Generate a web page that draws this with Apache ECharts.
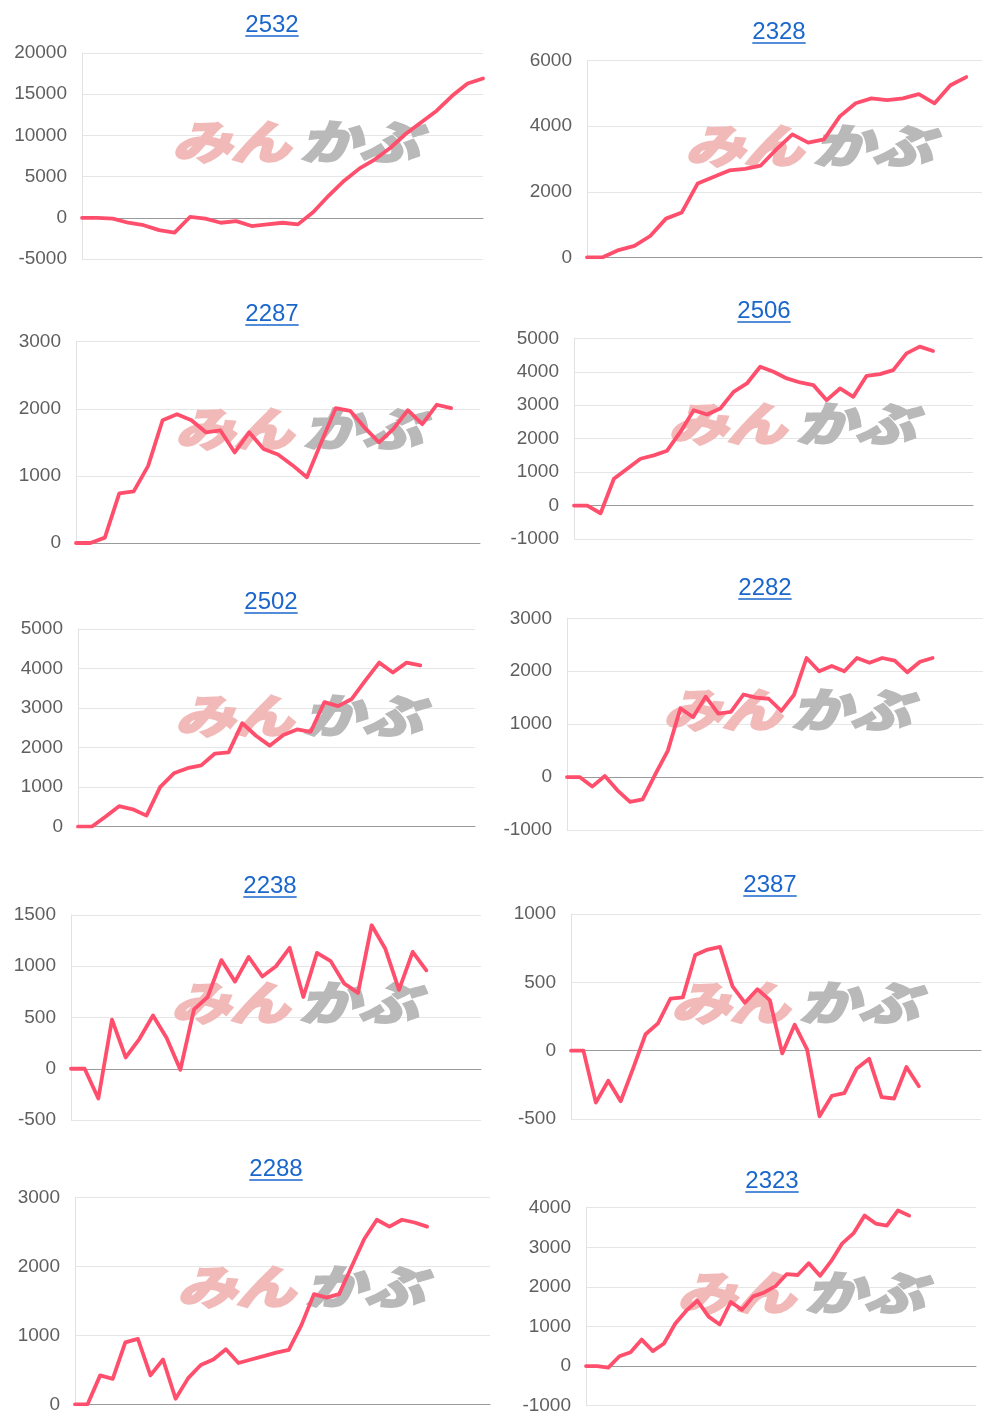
<!DOCTYPE html>
<html><head><meta charset="utf-8">
<script src="https://cdn.jsdelivr.net/npm/echarts@6/dist/echarts.min.js"></script>
<style>html,body{margin:0;padding:0;background:#fff}#c{width:1000px;height:1426px}</style>
</head><body><div id="c"></div>
<script>
// ---- data ----
const titles = ['2532', '2328', '2287', '2506', '2502', '2282', '2238', '2387', '2288', '2323'];
const s2532 = [0, 0, -100, -600, -900, -1500, -1800, 100, -100, -600, -400, -1000, -800, -600, -800, 700, 2700, 4500, 6000, 7100, 8500, 10200, 11600, 13000, 14800, 16300, 16900];
const s2328 = [0, 0, 220, 350, 650, 1180, 1370, 2250, 2450, 2650, 2700, 2800, 3300, 3750, 3500, 3600, 4300, 4700, 4850, 4800, 4850, 4980, 4700, 5250, 5500];
const s2287 = [0, 0, 80, 740, 770, 1150, 1830, 1920, 1830, 1650, 1680, 1350, 1650, 1400, 1320, 1160, 980, 1500, 2010, 1970, 1720, 1500, 1700, 1980, 1770, 2060, 2010];
const s2506 = [0, 0, -230, 800, 1100, 1400, 1500, 1640, 2200, 2850, 2720, 2900, 3400, 3650, 4150, 4000, 3800, 3680, 3600, 3150, 3500, 3250, 3880, 3930, 4050, 4550, 4750, 4620];
const s2502 = [0, 0, 250, 520, 440, 280, 1000, 1350, 1480, 1550, 1850, 1880, 2620, 2300, 2050, 2320, 2460, 2400, 3150, 3050, 3230, 3700, 4150, 3900, 4150, 4080];
const s2282 = [0, 0, -180, 20, -250, -470, -420, 50, 500, 1300, 1130, 1520, 1200, 1230, 1560, 1500, 1480, 1250, 1550, 2250, 2000, 2100, 2000, 2250, 2160, 2250, 2200, 1980, 2180, 2250];
const s2238 = [0, 0, -290, 480, 110, 290, 520, 300, -10, 580, 700, 1060, 850, 1090, 900, 1000, 1180, 700, 1130, 1050, 830, 740, 1400, 1170, 770, 1140, 960];
const s2387 = [0, 0, -380, -220, -370, -130, 120, 200, 380, 390, 700, 740, 760, 470, 350, 450, 370, -20, 190, 10, -480, -330, -310, -130, -60, -340, -350, -120, -260];
const s2288 = [0, 0, 420, 370, 900, 950, 420, 650, 80, 380, 570, 650, 800, 600, 650, 700, 750, 790, 1150, 1600, 1550, 1600, 2000, 2400, 2680, 2580, 2680, 2640, 2580];
const s2323 = [0, 0, -40, 250, 350, 670, 380, 570, 1070, 1400, 1650, 1250, 1050, 1620, 1420, 1760, 1860, 2020, 2320, 2300, 2600, 2280, 2650, 3100, 3350, 3800, 3600, 3550, 3930, 3800];
const seriesData = [s2532, s2328, s2287, s2506, s2502, s2282, s2238, s2387, s2288, s2323];
const yMin  = [-5000, 0, 0, -1000, 0, -1000, -500, -500, 0, -1000];
const yMax  = [20000, 6000, 3000, 5000, 5000, 3000, 1500, 1000, 3000, 4000];
const yStep = [5000, 2000, 1000, 1000, 1000, 1000, 500, 500, 1000, 1000];
const slots = [27, 26, 29, 31, 30, 34, 31, 34, 34, 36];
const watermarkA = 'みん';
const watermarkB = 'かぶ';

// ---- layout (px) ----
const grids = [
  [82, 53, 401, 206], [587, 60.7, 395, 196.6],
  [76, 341.7, 404, 201.3], [574, 338.3, 399, 200.7],
  [78, 629, 397, 197.7], [567, 618.3, 416, 211.7],
  [71, 915, 410, 205], [571, 914, 410, 205],
  [75, 1197.7, 415, 206.6], [586, 1207.7, 390, 198]
];
const titlePos = [[272, 25], [779, 32], [272, 314], [764, 311], [271, 602], [765, 588], [270, 886], [770, 885], [276, 1169], [772, 1181]];
const markPos = [[172, 142], [685, 146], [175, 429], [668, 424], [175, 716], [663, 710], [171, 1003], [671, 1003], [177, 1287], [677, 1293]];

const chart = echarts.init(document.getElementById('c'), null, {renderer: 'canvas'});
const cv = document.createElement('canvas').getContext('2d');
const titleFont = '24px "Liberation Sans", Arial, sans-serif';
cv.font = titleFont;
const markFont = 'italic bold 46px "Noto Sans CJK JP", sans-serif';

const option = {
  animation: false,
  backgroundColor: '#ffffff',
  grid: [], xAxis: [], yAxis: [], series: [], graphic: []
};
seriesData.forEach((d, i) => {
  const g = grids[i];
  option.grid.push({left: g[0], top: g[1], width: g[2], height: g[3], containLabel: false});
  option.xAxis.push({
    type: 'category', gridIndex: i, boundaryGap: false,
    data: Array.from({length: slots[i]}, (_, k) => String(k)),
    axisLine: {show: true, onZero: true, lineStyle: {color: '#9a9a9a', width: 1}},
    axisTick: {show: false}, axisLabel: {show: false}, splitLine: {show: false}
  });
  option.yAxis.push({
    type: 'value', gridIndex: i, min: yMin[i], max: yMax[i], interval: yStep[i],
    axisLine: {show: true, lineStyle: {color: '#e2e2e2'}},
    axisTick: {show: false},
    axisLabel: {color: '#5f5f5f', fontSize: 19, margin: 15, fontFamily: '"Liberation Sans", Arial, sans-serif',
      formatter: v => String(v)},
    splitLine: {show: true, lineStyle: {color: '#e6e6e6', width: 1}}
  });
  option.series.push({
    type: 'line', xAxisIndex: i, yAxisIndex: i, data: d, showSymbol: false, symbol: 'none',
    lineStyle: {color: '#ff4f6d', width: 3.8, join: 'round', cap: 'round'}, z: 5
  });
  const tp = titlePos[i];
  const w = cv.measureText(titles[i]).width;
  option.graphic.push({
    type: 'text', x: tp[0], y: tp[1], z: 10,
    style: {text: titles[i], font: titleFont, fill: '#1a66cc', textAlign: 'center', textVerticalAlign: 'middle'}
  });
  option.graphic.push({
    type: 'line', z: 10,
    shape: {x1: tp[0] - w / 2, y1: tp[1] + 11, x2: tp[0] + w / 2, y2: tp[1] + 11},
    style: {stroke: '#1a66cc', lineWidth: 1.6}
  });
  const mp = markPos[i];
  option.graphic.push({
    type: 'text', x: mp[0], y: mp[1], scaleX: 1.28, z: 1, silent: true,
    style: {text: watermarkA, font: markFont, fill: '#f2b9b9', stroke: '#f2b9b9', lineWidth: 3, textAlign: 'left', textVerticalAlign: 'middle'}
  });
  option.graphic.push({
    type: 'text', x: mp[0] + 128, y: mp[1], scaleX: 1.3, z: 1, silent: true,
    style: {text: watermarkB, font: markFont, fill: '#b9b9b9', stroke: '#b9b9b9', lineWidth: 3, textAlign: 'left', textVerticalAlign: 'middle'}
  });
});
chart.setOption(option);
</script>
</body></html>
